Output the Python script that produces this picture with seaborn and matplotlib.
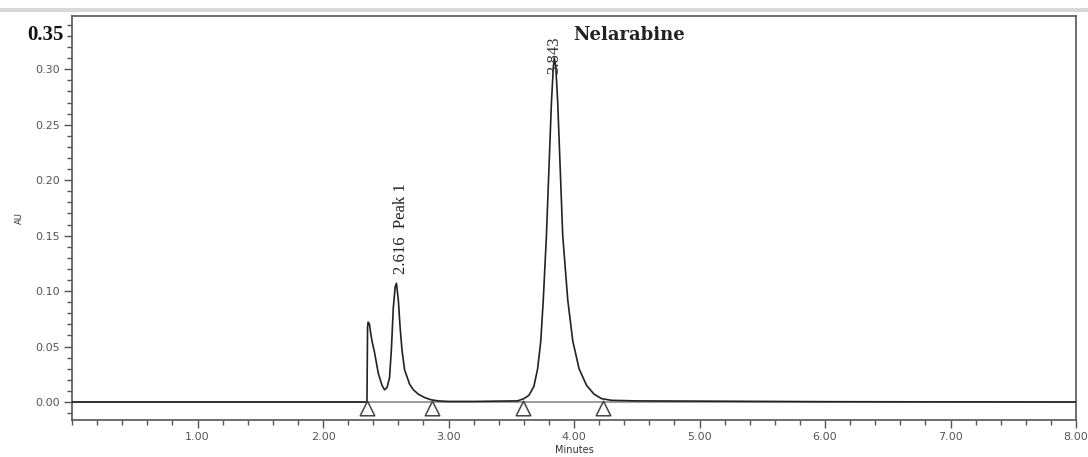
"""
Cromatograma HPLC da Nelarabina (absorbância x tempo de retenção)
"""

import pandas as pd
import matplotlib.pyplot as plt
from matplotlib.lines import Line2D
from matplotlib.ticker import MultipleLocator, FormatStrFormatter
import seaborn as sns

# Pontos do traço (minutos, AU)
tempo = [0.00, 1.00, 2.00, 2.35, 2.355, 2.36, 2.37, 2.38, 2.39, 2.41, 2.44, 2.47, 2.49,
         2.51, 2.53, 2.545, 2.56, 2.575, 2.585, 2.60, 2.615, 2.63, 2.65, 2.69, 2.72,
         2.76, 2.81, 2.86, 2.92, 3.00, 3.20, 3.40, 3.55, 3.60, 3.64, 3.68, 3.71, 3.735,
         3.755, 3.78, 3.80, 3.82, 3.835, 3.843, 3.855, 3.87, 3.89, 3.91, 3.95, 3.99,
         4.04, 4.10, 4.16, 4.22, 4.30, 4.50, 5.00, 6.00, 7.00, 8.00]
au = [0.000, 0.000, 0.000, 0.000, 0.068, 0.072, 0.070, 0.062, 0.055, 0.045, 0.026, 0.015, 0.011,
      0.013, 0.022, 0.048, 0.085, 0.104, 0.107, 0.092, 0.066, 0.046, 0.029, 0.016, 0.011,
      0.007, 0.004, 0.002, 0.001, 0.0005, 0.0005, 0.0008, 0.001, 0.003, 0.006, 0.014, 0.030, 0.055,
      0.092, 0.150, 0.210, 0.270, 0.302, 0.310, 0.302, 0.270, 0.210, 0.150, 0.092, 0.055,
      0.030, 0.015, 0.007, 0.003, 0.0015, 0.001, 0.0008, 0.0003, 0.0001, 0.000]

# Marcadores de início/fim da integração
marcas_tempo = [2.35, 2.87, 3.59, 4.23]
marcas_au = [-0.005, -0.005, -0.005, -0.005]

# Picos identificados
pico1_tempo, pico1_rotulo = 2.58, '2.616  Peak 1'
pico2_tempo, pico2_rotulo = 3.843, '3.843'

df = pd.DataFrame({'tempo': tempo, 'au': au})
df_marcas = pd.DataFrame({'tempo': marcas_tempo, 'au': marcas_au})

sns.set_style('white')
fig = plt.figure(figsize=(10.88, 4.57), dpi=100)
ax = fig.add_axes([0.0662, 0.081, 0.9228, 0.884])

# Linha de base em zero
ax.axhline(0, color='#8a8a8a', linewidth=1.2, zorder=1)

# Traço do cromatograma
sns.lineplot(data=df, x='tempo', y='au', sort=False, estimator=None,
             color='#222222', linewidth=1.2, ax=ax, zorder=3)

# Triângulos da integração
sns.scatterplot(data=df_marcas, x='tempo', y='au', marker='^', s=110,
                facecolor='white', edgecolor='#444444', linewidth=1.1, ax=ax, zorder=4)

# Limites e ticks
ax.set_xlim(0, 8)
ax.set_ylim(-0.0162, 0.348)
ax.xaxis.set_major_locator(MultipleLocator(1))
ax.xaxis.set_minor_locator(MultipleLocator(0.2))
ax.yaxis.set_major_locator(MultipleLocator(0.05))
ax.yaxis.set_minor_locator(MultipleLocator(0.01))
ax.xaxis.set_major_formatter(FormatStrFormatter('%.2f'))
ax.yaxis.set_major_formatter(FormatStrFormatter('%.2f'))
ax.set_xticks([1, 2, 3, 4, 5, 6, 7, 8])
ax.set_yticks([0.0, 0.05, 0.10, 0.15, 0.20, 0.25, 0.30])
ax.tick_params(axis='both', which='major', direction='out', length=6, width=1,
               color='#555555', labelsize=8, labelcolor='#555555', pad=3)
ax.tick_params(axis='both', which='minor', direction='out', length=3.5, width=1,
               color='#555555')
ax.tick_params(axis='x', which='both', bottom=True)
ax.tick_params(axis='y', which='both', left=True)

for spine in ax.spines.values():
    spine.set_color('#555555')
    spine.set_linewidth(1.2)

ax.set_xlabel('Minutes', fontsize=7, color='#333333', labelpad=2)
ax.set_ylabel('AU', fontsize=6, color='#333333', labelpad=8)

# Rótulos dos picos
ax.text(pico1_tempo + 0.04, 0.115, pico1_rotulo, rotation=90, ha='center', va='bottom',
        family='Liberation Serif', fontsize=12, color='#222222')
ax.text(pico2_tempo, 0.296, pico2_rotulo, rotation=90, ha='center', va='bottom',
        family='Liberation Serif', fontsize=12, color='#333333')
ax.text(3.99, 0.331, 'Nelarabine', ha='left', va='center',
        family='DejaVu Serif', fontsize=13, fontweight='bold', color='#222222')

# Valor 0.35 no topo do eixo
ax.text(-0.07, 0.331, '0.35', ha='right', va='center', family='Liberation Serif',
        fontsize=15, fontweight='bold', color='#111111', clip_on=False)

# Faixa cinza no topo da imagem
fig.add_artist(Line2D([0, 1], [0.978, 0.978], color='#d8d8d8', linewidth=3))

fig.savefig('out.png', dpi=100)
